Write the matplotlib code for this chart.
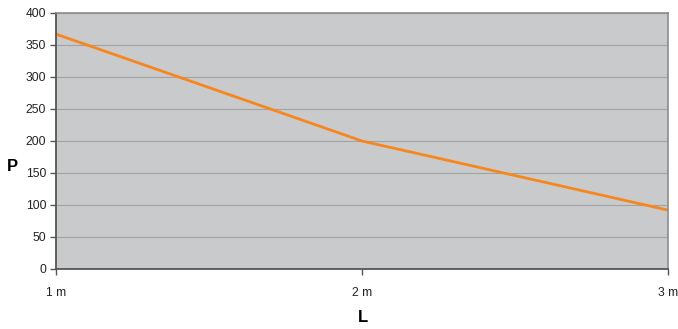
import matplotlib.pyplot as plt

plt.rcParams['font.family'] = ['Liberation Sans', 'DejaVu Sans']

# data
lengths = [1, 2, 3]
length_labels = ['1 m', '2 m', '3 m']
power = [367, 200, 92]
y_ticks = [0, 50, 100, 150, 200, 250, 300, 350, 400]

fig = plt.figure(figsize=(6.78, 3.29), dpi=100)
ax = fig.add_axes([0.0826, 0.1824, 0.9027, 0.7781])
ax.set_facecolor('#c9cacc')

ax.plot(lengths, power, color='#f7861e', linewidth=2, solid_capstyle='butt')

ax.set_xlim(1, 3)
ax.set_ylim(0, 400)
ax.set_yticks(y_ticks)
ax.set_xticks(lengths)
ax.set_xticklabels(length_labels)
ax.grid(axis='y', color='#a2a3a5', linewidth=0.8)
ax.set_axisbelow(True)

for side in ['top', 'right']:
    ax.spines[side].set_color('#8c8d8f')
    ax.spines[side].set_linewidth(1.2)
for side in ['left', 'bottom']:
    ax.spines[side].set_color('#555555')
    ax.spines[side].set_linewidth(1.3)

ax.tick_params(axis='y', length=4, width=1, color='#555555', labelsize=8.7, pad=3, labelcolor='#222222')
ax.tick_params(axis='x', length=4, width=1, color='#555555', labelsize=8.7, pad=9, labelcolor='#222222')

fig.text(0.018, 0.495, 'P', fontsize=12, fontweight='bold', ha='center', va='center')
fig.text(0.535, 0.035, 'L', fontsize=12, fontweight='bold', ha='center', va='center')

fig.savefig('out.png', dpi=100)
